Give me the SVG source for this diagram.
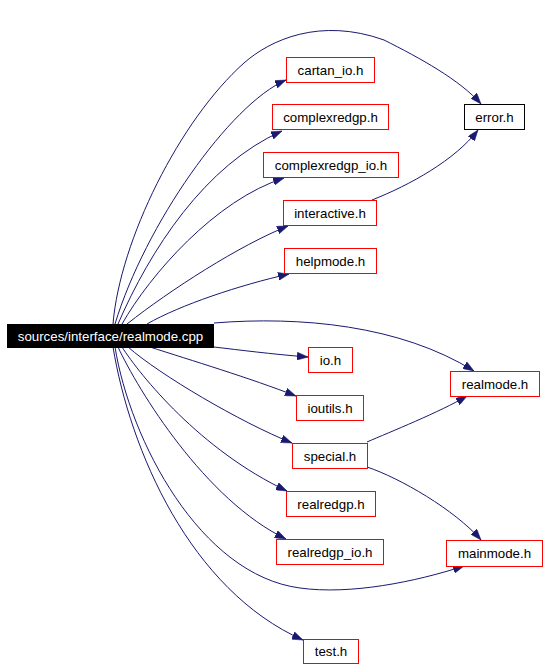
<svg xmlns="http://www.w3.org/2000/svg" width="547" height="667" viewBox="0 0 547 667">
<style>
  .node rect { fill: #ffffff; stroke: #ff0000; stroke-width: 1; }
  .node text { font-family: "Liberation Sans", Arial, sans-serif; font-size: 13.3px; fill: #000000; text-anchor: middle; }
  #n_source rect { fill: #000000; stroke: #000000; }
  #n_source text { fill: #ffffff; }
  #n_error rect { stroke: #000000; }
  .edges path { fill: none; stroke: #191970; stroke-width: 1; marker-end: url(#arrow); }
</style>
<defs>
  <marker id="arrow" markerUnits="userSpaceOnUse" markerWidth="11" markerHeight="8" viewBox="0 0 11 8" refX="11" refY="4" orient="auto">
    <path d="M0,0 L11,4 L0,8 z" fill="#191970" stroke="#191970" stroke-width="0.5"/>
  </marker>
</defs>
<rect x="0" y="0" width="547" height="667" fill="#ffffff"/>
<g class="edges" id="edges">
  <path d="M113,324 C120,240 180,120 244,63 C270,40 320,17 384,40 C420,58 460,80 481,104"/>
  <path d="M115,324 C145,225 230,104 286,80"/>
  <path d="M118,324 C150,250 205,165 282,131"/>
  <path d="M122,324 C150,275 215,200 284,178"/>
  <path d="M127,324 C170,290 240,245 288,226"/>
  <path d="M147,324 C180,305 240,285 289,274"/>
  <path d="M214,323 C300,316 400,325 474,371"/>
  <path d="M214,347 C240,350 270,354 308,357"/>
  <path d="M150,347 C190,360 250,378 296,396"/>
  <path d="M128,347 C160,375 240,422 292,443"/>
  <path d="M122,347 C140,375 200,450 287,491"/>
  <path d="M118,347 C138,390 205,500 286,539"/>
  <path d="M115,347 C130,440 200,575 300,588 C350,595 415,582 464,566"/>
  <path d="M113,347 C130,450 190,590 303,640"/>
  <path d="M372,200 C410,185 455,160 478,130"/>
  <path d="M367,442 C390,432 440,412 467,396"/>
  <path d="M367,467 C400,478 455,510 481,540"/>
</g>
<g class="node" id="n_source"><rect x="7.5" y="324.5" width="206" height="23"/><text x="110.5" y="340.5">sources/interface/realmode.cpp</text></g>
<g class="node" id="n_error"><rect x="464.5" y="104.5" width="60" height="25"/><text x="494.5" y="121.5">error.h</text></g>
<g class="node" id="n_cartan_io"><rect x="286.5" y="57.5" width="88" height="25"/><text x="330.5" y="74.5">cartan_io.h</text></g>
<g class="node" id="n_complexredgp"><rect x="272.5" y="104.5" width="116" height="25"/><text x="330.5" y="121.5">complexredgp.h</text></g>
<g class="node" id="n_complexredgp_io"><rect x="263.5" y="152.5" width="135" height="25"/><text x="331" y="169.5">complexredgp_io.h</text></g>
<g class="node" id="n_interactive"><rect x="283.5" y="200.5" width="93" height="25"/><text x="330" y="217.5">interactive.h</text></g>
<g class="node" id="n_helpmode"><rect x="284.5" y="248.5" width="92" height="25"/><text x="330.5" y="265.5">helpmode.h</text></g>
<g class="node" id="n_io"><rect x="308.5" y="347.5" width="44" height="25"/><text x="330.5" y="364.5">io.h</text></g>
<g class="node" id="n_realmode"><rect x="450.5" y="371.5" width="89" height="25"/><text x="495" y="388.5">realmode.h</text></g>
<g class="node" id="n_ioutils"><rect x="296.5" y="395.5" width="67" height="25"/><text x="330" y="412.5">ioutils.h</text></g>
<g class="node" id="n_special"><rect x="292.5" y="443.5" width="75" height="25"/><text x="330" y="460.5">special.h</text></g>
<g class="node" id="n_realredgp"><rect x="286.5" y="491.5" width="89" height="25"/><text x="331" y="508.5">realredgp.h</text></g>
<g class="node" id="n_realredgp_io"><rect x="276.5" y="539.5" width="107" height="25"/><text x="330" y="556.5">realredgp_io.h</text></g>
<g class="node" id="n_mainmode"><rect x="446.5" y="540.5" width="96" height="26"/><text x="494.5" y="558">mainmode.h</text></g>
<g class="node" id="n_test"><rect x="303.5" y="639.5" width="55" height="24"/><text x="331" y="656">test.h</text></g>
</svg>
